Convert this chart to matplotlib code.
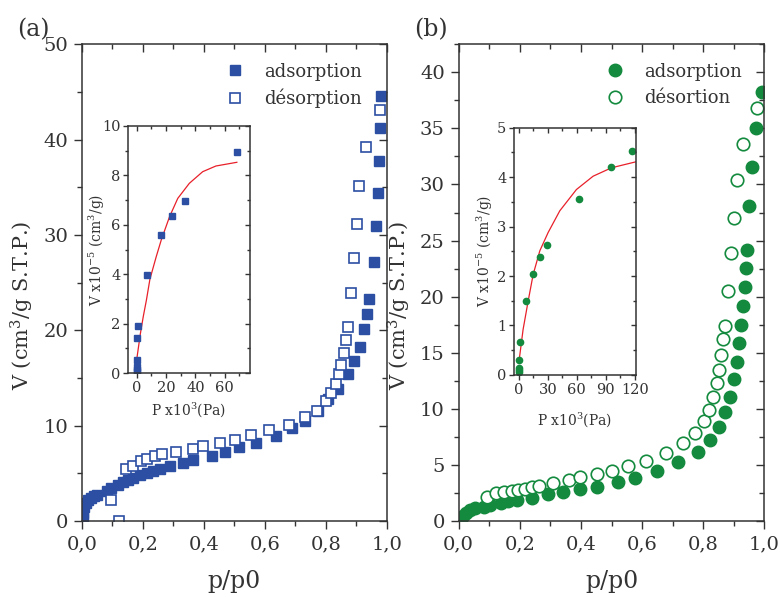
import matplotlib
matplotlib.use("Agg")
import matplotlib.pyplot as plt
from matplotlib.ticker import MultipleLocator, FuncFormatter

plt.rcParams['font.family'] = ['DejaVu Serif']
plt.rcParams['mathtext.fontset'] = 'dejavuserif'

# ---- panel (a): isotherm, blue squares ----
a_ads_x = [0.002, 0.005, 0.008, 0.012, 0.02, 0.03, 0.04, 0.05, 0.081, 0.097, 0.119, 0.135,
           0.152, 0.168, 0.19, 0.212, 0.234, 0.256, 0.289, 0.332, 0.365, 0.425, 0.469, 0.516,
           0.57, 0.636, 0.688, 0.731, 0.775, 0.808, 0.84, 0.871, 0.893, 0.911, 0.925, 0.935,
           0.942, 0.957, 0.965, 0.97, 0.975, 0.977, 0.98]
a_ads_y = [0.3, 0.9, 1.5, 1.9, 2.2, 2.45, 2.6, 2.75, 3.18, 3.53, 3.84, 4.12,
           4.3, 4.54, 4.82, 5.06, 5.27, 5.52, 5.76, 6.15, 6.46, 6.85, 7.2, 7.79,
           8.21, 8.98, 9.72, 10.53, 11.57, 12.8, 13.9, 15.4, 16.8, 18.3, 20.1, 21.7,
           23.3, 27.2, 30.9, 34.4, 37.8, 41.2, 44.6]
a_des_x = [0.122, 0.094, 0.144, 0.168, 0.193, 0.215, 0.239, 0.263, 0.31, 0.363, 0.398, 0.452,
           0.502, 0.556, 0.614, 0.68, 0.731, 0.77, 0.8, 0.816, 0.833, 0.843, 0.85, 0.858,
           0.867, 0.873, 0.881, 0.892, 0.901, 0.908, 0.93, 0.977]
a_des_y = [0.0, 2.2, 5.42, 5.8, 6.32, 6.57, 6.8, 7.0, 7.27, 7.55, 7.9, 8.2,
           8.56, 9.0, 9.6, 10.1, 10.9, 11.6, 12.6, 13.4, 14.4, 15.4, 16.4, 17.6,
           19.0, 20.4, 23.9, 27.6, 31.2, 35.1, 39.2, 43.1]

# inset (a)
a_in_p = [0.1, 0.1, 0.1, 0.2, 0.2, 0.9, 7.0, 16.7, 24.4, 33.0, 68.3]
a_in_v = [0.05, 0.12, 0.26, 0.55, 1.43, 1.9, 3.98, 5.6, 6.34, 6.96, 8.93]
a_fit_p = [0.0, 2.5, 4.5, 6.6, 9.0, 13.3, 16.7, 22.4, 28.0, 35.9, 45.0, 54.0, 68.3]
a_fit_v = [0.55, 1.6, 2.3, 2.95, 3.8, 4.71, 5.38, 6.33, 7.07, 7.68, 8.15, 8.38, 8.53]

# ---- panel (b): isotherm, green circles ----
b_ads_x = [0.006, 0.013, 0.024, 0.038, 0.055, 0.082, 0.104, 0.137, 0.162, 0.191, 0.24, 0.293,
           0.341, 0.397, 0.453, 0.521, 0.576, 0.65, 0.719, 0.782, 0.822, 0.85, 0.872, 0.888,
           0.902, 0.911, 0.918, 0.924, 0.93, 0.937, 0.94, 0.943, 0.951, 0.96, 0.973, 0.992]
b_ads_y = [0.1, 0.45, 0.74, 0.98, 1.13, 1.28, 1.43, 1.63, 1.78, 1.87, 2.08, 2.38,
           2.61, 2.85, 3.06, 3.5, 3.86, 4.48, 5.29, 6.2, 7.2, 8.4, 9.74, 11.1,
           12.7, 14.2, 15.9, 17.5, 19.2, 20.9, 22.6, 24.2, 28.1, 31.6, 35.0, 38.2]
b_des_x = [0.093, 0.122, 0.148, 0.173, 0.193, 0.216, 0.24, 0.263, 0.309, 0.362, 0.397, 0.452,
           0.503, 0.554, 0.612, 0.678, 0.734, 0.773, 0.801, 0.82, 0.833, 0.844, 0.85, 0.858,
           0.866, 0.872, 0.882, 0.892, 0.899, 0.909, 0.929, 0.975]
b_des_y = [2.17, 2.47, 2.56, 2.7, 2.82, 2.91, 3.06, 3.15, 3.41, 3.71, 3.95, 4.19,
           4.48, 4.9, 5.37, 6.09, 6.98, 7.87, 8.9, 9.9, 11.1, 12.3, 13.5, 14.8,
           16.2, 17.4, 20.5, 23.9, 27.0, 30.4, 33.6, 36.8]

# inset (b)
b_in_p = [0.2, 0.2, 0.2, 0.4, 1.4, 7.6, 14.8, 22.4, 29.3, 62.0, 95.9, 117.2]
b_in_v = [0.06, 0.1, 0.15, 0.31, 0.66, 1.49, 2.04, 2.38, 2.62, 3.55, 4.21, 4.53]
b_fit_p = [0.4, 4.4, 9.6, 14.8, 21.7, 30.3, 42.4, 59.6, 76.9, 95.9, 121.0]
b_fit_v = [0.31, 0.92, 1.49, 2.03, 2.51, 2.88, 3.32, 3.75, 4.02, 4.19, 4.31]

blue = '#2c4fa3'
green = '#138a3e'
red = '#e8202a'
ink = '#333333'

comma = FuncFormatter(lambda v, pos: ('%.1f' % v).replace('.', ','))


def style(ax, xmaj, xmin, ymaj, ymin, size, lab, ln):
    ax.xaxis.set_major_locator(MultipleLocator(xmaj))
    ax.xaxis.set_minor_locator(MultipleLocator(xmin))
    ax.yaxis.set_major_locator(MultipleLocator(ymaj))
    ax.yaxis.set_minor_locator(MultipleLocator(ymin))
    for s in ax.spines.values():
        s.set_linewidth(1.1)
        s.set_color(ink)
    ax.tick_params(which='major', length=ln, width=1.0, color=ink, labelsize=size,
                   labelcolor=ink, pad=lab)
    ax.tick_params(which='minor', length=ln * 0.6, width=1.0, color=ink)
    # inward ticks on top and right
    top = ax.secondary_xaxis('top')
    top.xaxis.set_major_locator(MultipleLocator(xmaj))
    top.xaxis.set_minor_locator(MultipleLocator(xmin))
    top.tick_params(which='both', direction='in', labeltop=False, color=ink, width=1.0)
    top.tick_params(which='major', length=ln)
    top.tick_params(which='minor', length=ln * 0.6)
    right = ax.secondary_yaxis('right')
    right.yaxis.set_major_locator(MultipleLocator(ymaj))
    right.yaxis.set_minor_locator(MultipleLocator(ymin))
    right.tick_params(which='both', direction='in', labelright=False, color=ink, width=1.0)
    right.tick_params(which='major', length=ln)
    right.tick_params(which='minor', length=ln * 0.6)
    for sa in (top, right):
        for s in sa.spines.values():
            s.set_visible(False)


fig = plt.figure(figsize=(7.8, 5.97), dpi=100)

ylab = r'V (cm$^3$/g S.T.P.)'

# panel (a)
ax1 = fig.add_axes([0.105, 0.127, 0.391, 0.799])
ax1.plot(a_ads_x, a_ads_y, 's', color=blue, ms=7.5, label='adsorption')
ax1.plot(a_des_x, a_des_y, 's', mfc='white', mec=blue, mew=1.2, ms=7.5, label='désorption')
ax1.set_xlim(0, 1.0)
ax1.set_ylim(0, 50)
style(ax1, 0.2, 0.1, 10, 5, 14, 4, 6)
ax1.xaxis.set_major_formatter(comma)
ax1.set_xlabel('p/p0', fontsize=17, color=ink, labelpad=12)
ax1.set_ylabel(ylab, fontsize=15, color=ink)
ax1.yaxis.set_label_coords(-0.152, 0.453)
ax1.legend(loc='upper left', bbox_to_anchor=(0.42, 0.995), frameon=False, fontsize=13,
           handlelength=1.0, handletextpad=1.1, labelspacing=0.45, numpoints=1,
           labelcolor=ink)

# panel (b)
ax2 = fig.add_axes([0.588, 0.127, 0.392, 0.799])
ax2.plot(b_ads_x, b_ads_y, 'o', color=green, ms=9, label='adsorption')
ax2.plot(b_des_x, b_des_y, 'o', mfc='white', mec=green, mew=1.2, ms=9, label='désortion')
ax2.set_xlim(0, 1.0)
ax2.set_ylim(0, 42.5)
style(ax2, 0.2, 0.1, 5, 2.5, 14, 4, 6)
ax2.xaxis.set_major_formatter(comma)
ax2.set_xlabel('p/p0', fontsize=17, color=ink, labelpad=12)
ax2.set_ylabel(ylab, fontsize=15, color=ink)
ax2.yaxis.set_label_coords(-0.15, 0.453)
ax2.legend(loc='upper left', bbox_to_anchor=(0.43, 0.995), frameon=False, fontsize=13,
           handlelength=1.0, handletextpad=1.1, labelspacing=0.45, numpoints=1,
           labelcolor=ink)

# inset (a)
in1 = fig.add_axes([0.164, 0.375, 0.156, 0.414])
in1.plot(a_fit_p, a_fit_v, '-', color=red, lw=0.9)
in1.plot(a_in_p, a_in_v, 's', color=blue, ms=4.5)
in1.set_xlim(-6, 77)
in1.set_ylim(0, 10)
style(in1, 20, 10, 2, 1, 10.5, 2, 3.5)
in1.set_xlabel(r'P x10$^3$(Pa)', fontsize=10, color=ink, labelpad=4)
in1.set_ylabel(r'V x10$^{-5}$ (cm$^3$/g)', fontsize=10, color=ink)
in1.yaxis.set_label_coords(-0.17, 0.5)

# inset (b)
in2 = fig.add_axes([0.659, 0.372, 0.156, 0.414])
in2.plot(b_fit_p, b_fit_v, '-', color=red, lw=0.9)
in2.plot(b_in_p, b_in_v, 'o', color=green, ms=4.5)
in2.set_xlim(-5, 121)
in2.set_ylim(0, 5)
style(in2, 30, 15, 1, 0.5, 10.5, 2, 3.5)
in2.set_xlabel(r'P x10$^3$(Pa)', fontsize=10, color=ink, labelpad=10)
in2.set_ylabel(r'V x10$^{-5}$ (cm$^3$/g)', fontsize=10, color=ink)
in2.yaxis.set_label_coords(-0.155, 0.5)

fig.text(0.043, 0.95, '(a)', fontsize=17, color=ink, ha='center', va='center')
fig.text(0.552, 0.95, '(b)', fontsize=17, color=ink, ha='center', va='center')

fig.savefig('out.png', dpi=100)
